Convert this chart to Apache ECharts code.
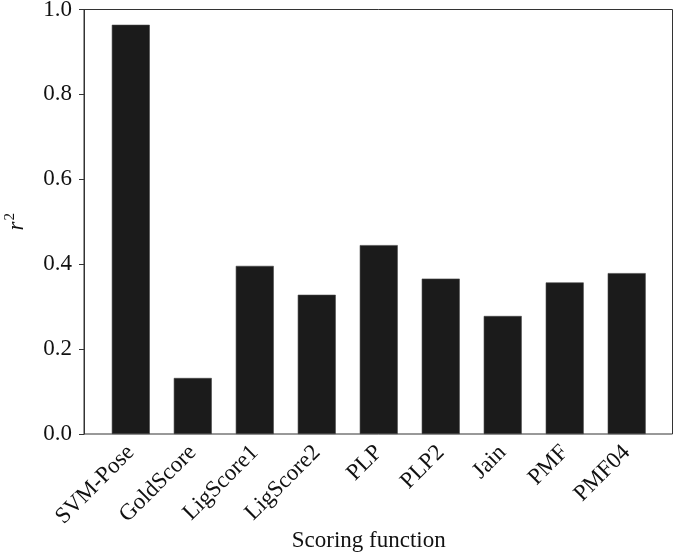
<!DOCTYPE html>
<html>
<head>
<meta charset="utf-8">
<script src="https://cdn.jsdelivr.net/npm/echarts@6/dist/echarts.min.js"></script>
<style>
  html, body { margin: 0; padding: 0; background: #fff; }
  #chart { width: 675px; height: 554px; }
</style>
</head>
<body>
<div id="chart"></div>
<script>
const categories = ['SVM-Pose', 'GoldScore', 'LigScore1', 'LigScore2', 'PLP', 'PLP2', 'Jain', 'PMF', 'PMF04'];
const r2Values = [0.964, 0.132, 0.396, 0.328, 0.445, 0.366, 0.278, 0.357, 0.379];
const yTicks = [0, 0.2, 0.4, 0.6, 0.8, 1.0];

const FONT = '"Liberation Serif", "Times New Roman", serif';
const TEXT = '#111';

const chart = echarts.init(document.getElementById('chart'), null, { renderer: 'canvas' });

const option = {
  backgroundColor: '#fff',
  animation: false,
  textStyle: { fontFamily: FONT, color: TEXT },
  grid: [
    // frame with the value axis
    { left: 84, right: 2.5, top: 9.5, bottom: 120, outerBoundsMode: 'none', containLabel: false,
      show: true, borderColor: '#333', borderWidth: 1, backgroundColor: 'transparent' },
    // band where the bars sit
    { left: 99.8, right: 17.3, top: 9.5, bottom: 120, outerBoundsMode: 'none', containLabel: false }
  ],
  xAxis: [
    { type: 'value', gridIndex: 0, min: 0, max: 1, show: false },
    {
      type: 'category',
      gridIndex: 1,
      data: categories,
      axisLine: { show: false },
      axisTick: { show: false },
      axisLabel: { rotate: 45, margin: 15, fontSize: 23, color: TEXT, fontFamily: FONT, interval: 0 },
      name: 'Scoring function',
      nameLocation: 'middle',
      nameMoveOverlap: false,
      nameGap: 95,
      nameTextStyle: { fontSize: 23, color: TEXT, fontFamily: FONT, padding: [0, 20, 0, 0] }
    }
  ],
  yAxis: [
    {
      type: 'value',
      gridIndex: 0,
      min: yTicks[0],
      max: yTicks[yTicks.length - 1],
      interval: 0.2,
      axisLine: { show: true, lineStyle: { color: '#333', width: 1 } },
      axisTick: { show: true, inside: false, length: 5, lineStyle: { color: '#333' } },
      splitLine: { show: false },
      axisLabel: { margin: 12, fontSize: 23, color: TEXT, fontFamily: FONT, formatter: v => v.toFixed(1) },
      name: '{r|r}{s|2}',
      nameLocation: 'middle',
      nameMoveOverlap: false,
      nameRotate: 90,
      nameGap: 54,
      nameTextStyle: {
        rich: {
          r: { fontSize: 23, fontStyle: 'italic', fontFamily: FONT, color: TEXT },
          s: { fontSize: 15, fontFamily: FONT, color: TEXT, verticalAlign: 'top', padding: [0, 0, 12, 1] }
        }
      }
    },
    { type: 'value', gridIndex: 1, min: 0, max: 1, show: false }
  ],
  series: [
    {
      type: 'bar',
      xAxisIndex: 1,
      yAxisIndex: 1,
      data: r2Values,
      barWidth: 38,
      itemStyle: { color: '#1b1b1b', borderColor: '#444', borderWidth: 0.6 }
    }
  ]
};

chart.setOption(option);
</script>
</body>
</html>
